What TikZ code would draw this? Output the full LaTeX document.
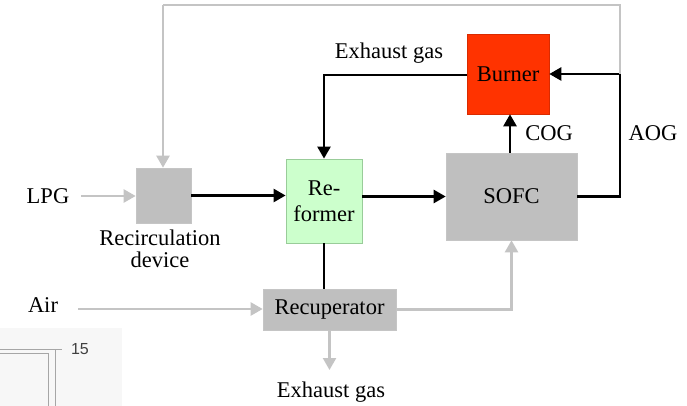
\documentclass[tikz,border=0pt]{standalone}
\usepackage{fontspec}
\setmainfont{Liberation Serif}
\setsansfont{Liberation Sans}
\usetikzlibrary{arrows.meta}
\definecolor{boxgray}{HTML}{BFBFBF}
\definecolor{linegray}{HTML}{C4C4C4}
\definecolor{refgreen}{HTML}{CCFFCC}
\definecolor{refedge}{HTML}{99CC99}
\definecolor{burnred}{HTML}{FF3300}
\begin{document}
\begin{tikzpicture}[x=1pt,y=-1pt,
  every node/.style={font=\fontsize{22.5}{22}\selectfont, inner sep=0pt},
  blk/.style={rectangle, fill=boxgray, draw=boxgray!90!white, line width=0.6pt},
  flowb/.style={line width=2.5pt, draw=black, -{Triangle[length=12pt,width=13pt]}},
  flowbn/.style={line width=2.5pt, draw=black},
  flowg/.style={line width=2.3pt, draw=linegray, -{Triangle[length=12pt,width=13pt]}},
  lbl/.style={text=black}]
\useasboundingbox (0,0) rectangle (687,406);
% fragment of neighbouring figure (bottom-left corner)
\fill[black!3] (0,328) rectangle (122,406);
\draw[gray!70, line width=1pt] (0,349) -- (62,349);
\draw[gray!70, line width=1pt] (0,353) -- (48,353) -- (48,406);
\draw[gray!70, line width=1pt] (55,349) -- (55,406);
\node[font=\sffamily\fontsize{16}{16}\selectfont, text=black!75] (fifteen) at (80,349) {15};
% blocks
\node[blk, minimum width=55pt, minimum height=55pt] (recirc) at (163.5,195.5) {};
\node[rectangle, fill=refgreen, draw=refedge, line width=0.8pt, minimum width=76pt, minimum height=84pt, align=center, font=\fontsize{22.5}{26}\selectfont] (reformer) at (324,201) {Re-\\former};
\node[blk, minimum width=131pt, minimum height=87pt] (sofc) at (511.5,196.5) {SOFC};
\node[rectangle, fill=burnred, draw=burnred!85!black, line width=0.6pt, minimum width=82pt, minimum height=80pt] (burner) at (508,74) {Burner};
\node[blk, minimum width=133pt, minimum height=41pt] (recup) at (329.5,309.5) {Recuperator};
% labels
\node[lbl] (lpg) at (48,196) {LPG};
\node[lbl] (air) at (43,305) {Air};
\node[lbl, align=center] (reclbl) at (160,249) {Recirculation\\device};
\node[lbl] (exh1) at (389,53) {Exhaust gas};
\node[lbl] (cog) at (549,133) {COG};
\node[lbl] (aog) at (653,133) {AOG};
\node[lbl] (exh2) at (331,392) {Exhaust gas};
% coordinates
\coordinate (lpgs) at (81,196);
\coordinate (airs) at (78,309);
\coordinate (aogc) at (620,196.5);
\coordinate (topl) at (163,5);
\coordinate (topr) at (620,5);
\coordinate (exhend) at (329.5,370);
% black flows
\draw[flowb] (recirc.east) -- (reformer.west |- recirc.east);
\draw[flowb] (reformer.east |- sofc.west) -- (sofc.west);
\draw[flowb] (sofc.north -| 510,0) -- (burner.south -| 510,0);
\draw[flowb] (sofc.east) -- (aogc) -- (aogc |- burner.east) -- (burner.east);
\draw[flowb] (burner.west |- 0,75) -- (reformer.north |- 0,75) -- (reformer.north);
\draw[flowbn] (reformer.south) -- (reformer.south |- recup.north);
% grey flows
\draw[flowg] (lpgs) -- (recirc.west |- lpgs);
\draw[flowg] (airs) -- (recup.west |- airs);
\draw[flowg] (recup.east) -- (recup.east -| sofc.south) -- (sofc.south);
\draw[flowg] (recup.south) -- (exhend);
\draw[line width=2.3pt, draw=linegray] (aogc |- burner.east) -- (topr) -- (topl);
\draw[flowg] (topl) -- (topl |- recirc.north);
\end{tikzpicture}
\end{document}
